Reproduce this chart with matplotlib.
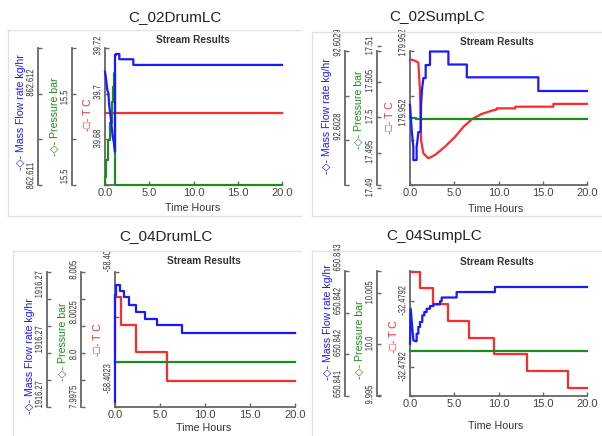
import matplotlib
matplotlib.use("Agg")
import matplotlib.pyplot as plt
from matplotlib.lines import Line2D
from matplotlib.patheffects import AbstractPathEffect
from matplotlib.ticker import FixedLocator
from matplotlib.transforms import Affine2D, Bbox, TransformedBbox
import numpy as np

plt.rcParams["font.family"] = ["Liberation Sans", "DejaVu Sans"]

W, H = 602, 436
GRAY = "#666666"
TXT = "#333333"
BLUE, GREEN, RED = "#1a1aff", "#1f8a1f", "#ff2a2a"

# --- C_02DrumLC ---
d1_mass_t = [0, 0.11, 0.26, 0.38, 0.49, 0.64, 0.75, 0.87, 1.02, 1.13, 1.13, 1.22, 1.22, 1.62, 1.62, 3.2, 3.2, 20]
d1_mass = [862.612122, 862.612051, 862.611925, 862.611889, 862.611745, 862.611638, 862.61153, 862.611423,
           862.611352, 862.611261, 862.612301, 862.612301, 862.612312, 862.612312, 862.612255, 862.612255,
           862.612194, 862.612194]
d1_pres_t = [0, 0, 0.11, 0.11, 0.38, 0.38, 0.56, 0.56, 0.75, 0.75, 0.94, 0.94, 1.06, 1.06, 1.18, 1.18, 20]
d1_pres = [15.498797, 15.499008, 15.499008, 15.49943, 15.49943, 15.499937, 15.499937, 15.50036, 15.50036,
           15.500906, 15.500906, 15.501286, 15.501286, 15.501625, 15.501625, 15.498797, 15.498797]
d1_temp_t = [0, 20]
d1_temp = [39.6913, 39.6913]

# --- C_02SumpLC ---
s1_mass_t = [0, 0.1, 0.19, 0.3, 0.38, 0.38, 0.75, 0.75, 0.85, 0.94, 1.2, 1.25, 1.35, 1.51, 1.77, 1.77,
             2.26, 2.26, 4.34, 4.34, 6.42, 6.42, 14.5, 14.5, 20]
s1_mass = [92.6028262, 92.6028107, 92.6027964, 92.6027845, 92.6027762, 92.6027607, 92.6027607, 92.6027762,
           92.6027845, 92.602794, 92.602794, 92.6028262, 92.602844, 92.6028583, 92.6028583, 92.6028738,
           92.6028738, 92.6028899, 92.6028899, 92.6028744, 92.6028744, 92.6028592, 92.6028592, 92.6028429,
           92.6028429]
s1_pres_t = [0, 0.7, 0.7, 20]
s1_pres = [17.4999, 17.4999, 17.4997, 17.4997]
s1_temp_t = [0, 0.57, 0.94, 1.13, 1.25, 1.51, 2.08, 2.83, 3.96, 5.1, 6.04, 6.98, 8.1, 9.25, 9.8, 9.8,
             11.9, 11.9, 16.2, 16.2, 20]
s1_temp = [179.95233, 179.952324, 179.952316, 179.952199, 179.951984, 179.951927, 179.951906, 179.95192,
           179.951956, 179.951998, 179.952041, 179.952073, 179.952096, 179.95211, 179.952115, 179.95212,
           179.95212, 179.952127, 179.952127, 179.952139, 179.952139]

# --- C_04DrumLC ---
d2_mass_t = [0, 0, 0.15, 0.15, 0.5, 0.5, 0.95, 0.95, 1.55, 1.55, 2.35, 2.35, 3.33, 3.33, 4.63, 4.63, 7.41, 7.41, 20]
d2_mass = [1916.269735, 1916.273625, 1916.273625, 1916.273989, 1916.273989, 1916.273771, 1916.273771,
           1916.273553, 1916.273553, 1916.273273, 1916.273273, 1916.273007, 1916.273007, 1916.272764,
           1916.272764, 1916.272524, 1916.272524, 1916.272255, 1916.272255]
d2_pres_t = [0, 20]
d2_pres = [7.999586, 7.999586]
d2_temp_t = [0, 0, 0.7, 0.7, 2.3, 2.3, 5.74, 5.74, 20]
d2_temp = [-58.402323, -58.402289, -58.402289, -58.402306, -58.402306, -58.402323, -58.402323,
           -58.402341, -58.402341]

# --- C_04SumpLC ---
s2_mass_t = [0, 0.075, 0.38, 0.64, 0.75, 0.75, 0.94, 0.94, 1.13, 1.13, 1.39, 1.39, 1.62, 1.62, 1.88, 1.88,
             2.26, 2.26, 2.64, 2.64, 3.39, 3.39, 3.58, 3.58, 5.27, 5.27, 9.6, 9.6, 20]
s2_mass = [650.841656, 650.842211, 650.84171, 650.841694, 650.841694, 650.841814, 650.841814, 650.841921,
           650.841921, 650.842, 650.842, 650.842106, 650.842106, 650.842159, 650.842159, 650.842211,
           650.842211, 650.842254, 650.842254, 650.842281, 650.842281, 650.842329, 650.842329, 650.842389,
           650.842389, 650.842476, 650.842476, 650.842556, 650.842556]
s2_pres_t = [0, 20]
s2_pres = [9.999314, 9.999314]
s2_temp_t = [0, 1.13, 1.13, 2.64, 2.64, 4.33, 4.33, 6.65, 6.65, 9.53, 9.53, 13.2, 13.2, 17.9, 17.9, 20]
s2_temp = [-32.479125, -32.479125, -32.479144, -32.479144, -32.479164, -32.479164, -32.479185, -32.479185,
           -32.479205, -32.479205, -32.479224, -32.479224, -32.479245, -32.479245, -32.479265, -32.479265]

x_ticks = [0, 5, 10, 15, 20]

# per axis: (lo, hi, tick values, tick strings, number of tick marks)
panels = [
    dict(title="C_02DrumLC", box=(105, 282, 48, 185), clip=None,
         frame=[((8, 30), (301, 30)), ((8, 30), (8, 216)), ((8, 216), (301, 216))],
         title_xy=(175, 17), sr_xy=(193, 40), th_xy=(193, 208),
         axes=[
             ("T C", "-□-", RED, 105, (88, 115), d1_temp_t, d1_temp,
              (39.66021, 39.71914, [39.68, 39.70, 39.72], ["39.68", "39.7", "39.72"], 4)),
             ("Pressure bar", "-◇-", GREEN, 72, (55, 117), d1_pres_t, d1_pres,
              (15.498797, 15.502266, [15.499, 15.501], ["15.5", "15.5"], 4)),
             ("Mass Flow rate kg/hr", "-◇-", BLUE, 38, (21, 112), d1_mass_t, d1_mass,
              (862.610903, 862.612376, [862.611, 862.612], ["862.611", "862.612"], 4)),
         ]),
    dict(title="C_02SumpLC", box=(410, 587, 51, 185), clip=None,
         frame=[((312, 32), (602, 32)), ((312, 32), (312, 216)), ((312, 216), (602, 216))],
         title_xy=(437, 17), sr_xy=(497, 42), th_xy=(496, 209),
         axes=[
             ("T C", "-□-", RED, 410, (390, 118), s1_temp_t, s1_temp,
              (179.9517914, 179.9523657, [179.9521, 179.9524], ["179.952", "179.952"], 4)),
             ("Pressure bar", "-◇-", GREEN, 377, (359, 110), s1_pres_t, s1_pres,
              (17.490423, 17.509296, [17.49, 17.495, 17.5, 17.505, 17.51],
               ["17.49", "17.495", "17.5", "17.505", "17.51"], None)),
             ("Mass Flow rate kg/hr", "-◇-", BLUE, 345, (327, 116), s1_mass_t, s1_mass,
              (92.602731, 92.6028905, [92.6028, 92.6029], ["92.6028", "92.6029"], 4)),
         ]),
    dict(title="C_04DrumLC", box=(115, 295, 272, 407), clip=(13, 251, 602, 436),
         frame=[((13, 251), (301, 251)), ((13, 251), (13, 436))],
         title_xy=(166, 236), sr_xy=(204, 261), th_xy=(204, 428),
         axes=[
             ("T C", "-□-", RED, 115, (98, 340), d2_temp_t, d2_temp,
              (-58.4023575, -58.4022731, [-58.40234, -58.402264], ["-58.4023", "-58.4023"], 4)),
             ("Pressure bar", "-◇-", GREEN, 81, (63, 342), d2_pres_t, d2_pres,
              (7.996927, 8.004905, [7.9975, 8.0, 8.0025, 8.005], ["7.9975", "8.0", "8.0025", "8.005"], 6)),
             ("Mass Flow rate kg/hr", "-◇-", BLUE, 46.7, (30, 356), d2_mass_t, d2_mass,
              (1916.269553, 1916.274462, [1916.270, 1916.272, 1916.274], ["1916.27", "1916.27", "1916.27"], 6)),
         ]),
    dict(title="C_04SumpLC", box=(410, 587, 271, 396), clip=None,
         frame=[((312, 251), (602, 251)), ((312, 251), (312, 436))],
         title_xy=(434, 236), sr_xy=(497, 262), th_xy=(496, 426),
         axes=[
             ("T C", "-□-", RED, 410, (394, 337), s2_temp_t, s2_temp,
              (-32.479275, -32.479124, [-32.47924, -32.47916], ["-32.4792", "-32.4792"], None)),
             ("Pressure bar", "-◇-", GREEN, 377, (360, 340), s2_pres_t, s2_pres,
              (9.9949, 10.007157, [9.995, 10.0, 10.005], ["9.995", "10.0", "10.005"], None)),
             ("Mass Flow rate kg/hr", "-◇-", BLUE, 345, (328, 322), s2_mass_t, s2_mass,
              (650.840825, 650.84281, [650.841008, 650.841659, 650.842326, 650.843016],
               ["650.841", "650.842", "650.842", "650.843"], 4)),
         ]),
]


class Squash(AbstractPathEffect):
    """Narrow the glyphs along the text direction, about the text centre."""

    def __init__(self, sx=0.75):
        super().__init__()
        self.sx = sx

    def draw_path(self, renderer, gc, tpath, affine, rgbFace=None):
        ext = tpath.get_extents()
        cx = (ext.x0 + ext.x1) / 2
        t = Affine2D().translate(-cx, 0).scale(self.sx, 1).translate(cx, 0) + affine
        renderer.draw_path(gc, tpath, t, rgbFace)


fig = plt.figure(figsize=(W / 100, H / 100), dpi=100)


def fx(x):
    return x / W


def fy(y):
    return 1 - y / H


for p in panels:
    left, right, top, bottom = p["box"]
    for (xa, ya), (xb, yb) in p["frame"]:
        fig.add_artist(Line2D([fx(xa), fx(xb)], [fy(ya), fy(yb)], color="#e2e2e2", lw=1,
                              transform=fig.transFigure))
    clip = None
    if p["clip"]:
        x0, y0, x1, y1 = p["clip"]
        clip = TransformedBbox(Bbox([[fx(x0), fy(y1)], [fx(x1), fy(y0)]]), fig.transFigure)

    base = fig.add_axes([fx(left), fy(bottom), (right - left) / W, (bottom - top) / H])
    base.set_facecolor("none")
    base.set_xlim(0, 20)
    for s in ["top", "right", "left"]:
        base.spines[s].set_visible(False)
    base.spines["bottom"].set_color(GRAY)
    base.spines["bottom"].set_linewidth(1.3)
    base.set_yticks([])
    base.set_xticks(x_ticks, labels=[f"{v:.1f}" for v in x_ticks])
    base.tick_params(axis="x", direction="in", length=3, width=1, color=GRAY,
                     labelsize=8, labelcolor="#444444", pad=2)

    M = 30
    for name, mark, color, spine_x, lab_xy, tt, vv, (lo, hi, tv, ts, marks) in p["axes"]:
        k = (hi - lo) / (bottom - top)
        ax = fig.add_axes([fx(left), fy(bottom + M), (right - left) / W, (bottom - top + 2 * M) / H],
                          sharex=base)
        ax.set_facecolor("none")
        ax.set_ylim(lo - M * k, hi + M * k)
        for s in ["top", "right", "bottom"]:
            ax.spines[s].set_visible(False)
        sp = ax.spines["left"]
        sp.set_position(("axes", (spine_x - left) / (right - left)))
        sp.set_bounds(lo, hi)
        sp.set_color(GRAY)
        sp.set_linewidth(1.3)
        ax.xaxis.set_visible(False)
        ax.set_yticks(tv, labels=ts, rotation=90, fontsize=7.5, color=TXT, va="center", ha="right",
                      path_effects=[Squash(0.72)])
        ax.yaxis.set_minor_locator(FixedLocator(np.linspace(lo, hi, marks) if marks else [lo, hi]))
        ax.tick_params(axis="y", which="major", direction="in", length=0 if marks else 3,
                       width=1, color=GRAY, pad=2)
        ax.tick_params(axis="y", which="minor", direction="in", length=3, width=1, color=GRAY)
        if clip is not None:
            for lbl in ax.get_yticklabels():
                lbl.set_clip_box(clip)
                lbl.set_clip_on(True)
        ax.plot(tt, vv, color=color, lw=1.6, clip_on=False)
        fig.text(fx(lab_xy[0]), fy(lab_xy[1]), f"{mark} {name}", rotation=90, ha="center",
                 va="center", color=color, fontsize=7.6)

    fig.text(fx(p["title_xy"][0]), fy(p["title_xy"][1]), p["title"], ha="center", va="center",
             fontsize=11, color="#222222")
    fig.text(fx(p["sr_xy"][0]), fy(p["sr_xy"][1]), "Stream Results", ha="center", va="center",
             fontsize=7.3, fontweight="bold", color=TXT)
    fig.text(fx(p["th_xy"][0]), fy(p["th_xy"][1]), "Time Hours", ha="center", va="center",
             fontsize=7.7, color=TXT)

fig.savefig("out.png", dpi=100)
